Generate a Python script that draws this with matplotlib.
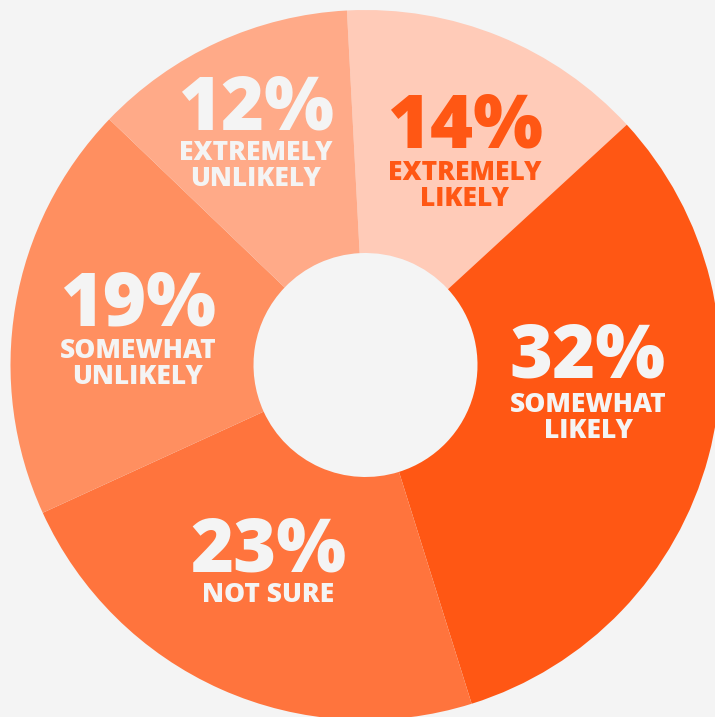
import matplotlib.pyplot as plt

# data
labels = ["EXTREMELY\nLIKELY", "SOMEWHAT\nLIKELY", "NOT SURE", "SOMEWHAT\nUNLIKELY", "EXTREMELY\nUNLIKELY"]
shares = [14, 32, 23, 19, 12]
colors = ["#ffcbb8", "#ff5714", "#ff743d", "#ff8f60", "#ffaa88"]
text_colors = ["#ff5714", "#f4f4f4", "#f4f4f4", "#f4f4f4", "#f4f4f4"]

W, H = 715, 717
bg = "#f4f4f4"

fig = plt.figure(figsize=(W / 100, H / 100), dpi=100, facecolor=bg)
ax = fig.add_axes([0, 0, 1, 1])
ax.set_facecolor(bg)

cx, cy = 365.5, H - 365
outer = 355
hole = 112

ax.pie(shares, colors=colors, startangle=93, counterclock=False,
       center=(cx, cy), radius=outer, frame=True,
       wedgeprops=dict(width=outer - hole, linewidth=0))

ax.set_xlim(0, W)
ax.set_ylim(0, H)
ax.set_aspect("equal")
ax.axis("off")

# label placement in pixel space: x centre, baseline of number, first label baseline gap
spots = [(465, 147, 33), (588, 377, 35), (268, 572, 30), (138, 325, 33), (256, 130, 30)]
font = ["Open Sans", "DejaVu Sans"]
for share, lab, tc, (x, y, gap) in zip(shares, labels, text_colors, spots):
    ax.text(x, H - y, f"{share}%", ha="center", va="baseline", fontsize=53,
            fontweight="heavy", family=font, color=tc)
    for i, line in enumerate(lab.split("\n")):
        ax.text(x, H - (y + gap + i * 26), line, ha="center", va="baseline",
                fontsize=19, fontweight="heavy", family=font, color=tc)

fig.savefig("out.png", dpi=100, facecolor=bg)
